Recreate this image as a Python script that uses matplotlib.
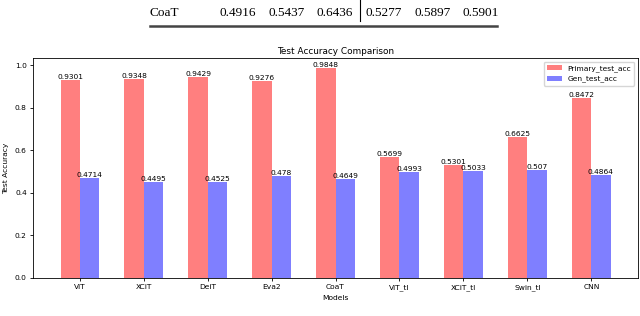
import numpy as np
import matplotlib
matplotlib.use('Agg')
from matplotlib import pyplot as plt

models = ['ViT', 'XCiT', 'DeiT', 'Eva2', 'CoaT', 'ViT_tl', 'XCiT_tl', 'Swin_tl', 'CNN']
primary_acc = [0.9301, 0.9348, 0.9429, 0.9276, 0.9848, 0.5699, 0.5301, 0.6625, 0.8472]
gen_acc = [0.4714, 0.4495, 0.4525, 0.478, 0.4649, 0.4993, 0.5033, 0.507, 0.4864]

# table row left over at the top of the page crop
table_name = 'CoaT'
table_vals = ['0.4916', '0.5437', '0.6436', '0.5277', '0.5897', '0.5901']

fig = plt.figure(figsize=(6.4, 3.16), dpi=100)

# table fragment
ty = 1 - 13/316
fig.text(150/640, ty, table_name, family='Liberation Serif', fontsize=9.5, va='center', ha='left')
xs = [238, 287, 335, 384, 433, 481]
for xx, v in zip(xs, table_vals):
    fig.text(xx/640, ty, v, family='Liberation Serif', fontsize=9.5, va='center', ha='center')
fig.add_artist(plt.Line2D([360/640, 360/640], [1.0, 1 - 21/316], color='black', lw=0.8))
fig.add_artist(plt.Line2D([150/640, 497/640], [1 - 26/316, 1 - 26/316], color='#444444', lw=1.8))

ax = fig.add_axes([33/640, 1 - 278/316, 605/640, 220/316])
x = np.arange(len(models))
w = 0.3
b1 = ax.bar(x - w/2, primary_acc, w, color='red', alpha=0.5, label='Primary_test_acc')
b2 = ax.bar(x + w/2, gen_acc, w, color='blue', alpha=0.5, label='Gen_test_acc')

for bars in (b1, b2):
    for rect in bars:
        h = rect.get_height()
        ax.text(rect.get_x() + rect.get_width()/2, h, str(h), ha='center', va='bottom', fontsize=5.4)

ax.set_xticks(x)
ax.set_xticklabels(models)
ax.tick_params(labelsize=5.4, length=2.5, width=0.6, pad=2)
ax.set_xlabel('Models', fontsize=5.4, labelpad=3)
ax.set_ylabel('Test Accuracy', fontsize=5.4, labelpad=4)
ax.set_title('Test Accuracy Comparison', fontsize=6.4, pad=3)
ax.legend(loc='upper right', fontsize=5.4)
for s in ax.spines.values():
    s.set_linewidth(0.6)

fig.savefig('out.png', dpi=100)
